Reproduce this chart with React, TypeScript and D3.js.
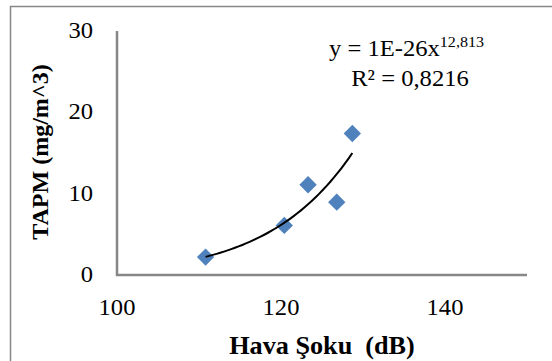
import React from 'react';
import * as d3 from 'd3';

const W = 552;
const H = 361;

// Hava Şoku (dB) vs TAPM (mg/m^3)
const havaSoku = [110.8, 120.4, 123.3, 126.8, 128.7];
const tapm = [2.2, 6.1, 11.1, 8.95, 17.4];
const xTicks = [100, 120, 140];
const yTicks = [0, 10, 20, 30];
const equation = ['y = 1E-26x', '12,813'];
const rSquared = 'R² = 0,8216';

const margin = { top: 31, right: 25, bottom: 86, left: 117 };
const SX = 1.07; // the picture is a bit wider than tall, text too

// text stretched horizontally around its anchor point
const T = ({ x, y, children, ...rest }: any) => (
  <g transform={`translate(${x},${y}) scale(${SX},1)`}>
    <text {...rest}>{children}</text>
  </g>
);

const App = () => {
  const x = d3.scaleLinear().domain([100, 150]).range([margin.left, W - margin.right]);
  const y = d3.scaleLinear().domain([0, 30]).range([H - margin.bottom, margin.top]);

  // power trendline fitted in log-log space, like the spreadsheet does
  const lx = havaSoku.map(Math.log);
  const ly = tapm.map(Math.log);
  const mx = d3.mean(lx)!;
  const my = d3.mean(ly)!;
  const b = d3.sum(lx, (v, i) => (v - mx) * (ly[i] - my)) / d3.sum(lx, v => (v - mx) ** 2);
  const a = my - b * mx;
  const [x0, x1] = d3.extent(havaSoku) as [number, number];
  const trend = d3.range(0, 41).map(i => {
    const xv = x0 + ((x1 - x0) * i) / 40;
    return [xv, Math.exp(a + b * Math.log(xv))];
  });
  const line = d3.line<number[]>().x(d => x(d[0])).y(d => y(d[1]));

  const font = '"Liberation Serif", "Times New Roman", serif';
  const diamond = d3.symbol().type(d3.symbolSquare).size(150)();

  return (
    <div style={{ position: 'fixed', left: 0, top: 0 }}>
      <svg width={W} height={H} style={{ display: 'block', background: '#fff' }} fontFamily={font}>
        <rect x={10.5} y={6.5} width={600} height={400} fill="#fff" stroke="#878787" strokeWidth={1.5} />

        {/* axes */}
        <line x1={x(100)} x2={x(100)} y1={y(30)} y2={y(0) + 1} stroke="#878787" strokeWidth={2.5} />
        <line x1={x(100) - 1} x2={x(150)} y1={y(0)} y2={y(0)} stroke="#878787" strokeWidth={2.5} />

        {yTicks.map(t => (
          <T key={t} x={x(100) - 24} y={y(t) - 1} dy="0.35em" textAnchor="end" fontSize={23}>{t}</T>
        ))}
        {xTicks.map(t => (
          <T key={t} x={x(t)} y={y(0) + 40} textAnchor="middle" fontSize={23}>{t}</T>
        ))}

        <T x={322} y={354} textAnchor="middle" fontSize={24.5} fontWeight="bold" style={{ whiteSpace: 'pre' }}>
          Hava Şoku  (dB)
        </T>
        <text transform={`translate(48, 152) rotate(-90)`} textAnchor="middle" fontSize={24} fontWeight="bold">
          TAPM (mg/m^3)
        </text>

        {/* points */}
        {havaSoku.map((v, i) => (
          <path key={i} d={diamond!} transform={`translate(${x(v)},${y(tapm[i])}) rotate(45)`} fill="#4F81BD" />
        ))}

        <path d={line(trend)!} fill="none" stroke="#000" strokeWidth={2} />

        <T x={329} y={56} fontSize={23}>
          {equation[0]}
          <tspan fontSize={15} dy={-9}>{equation[1]}</tspan>
        </T>
        <T x={410} y={86} textAnchor="middle" fontSize={23}>{rSquared}</T>
      </svg>
    </div>
  );
};

export default App;
